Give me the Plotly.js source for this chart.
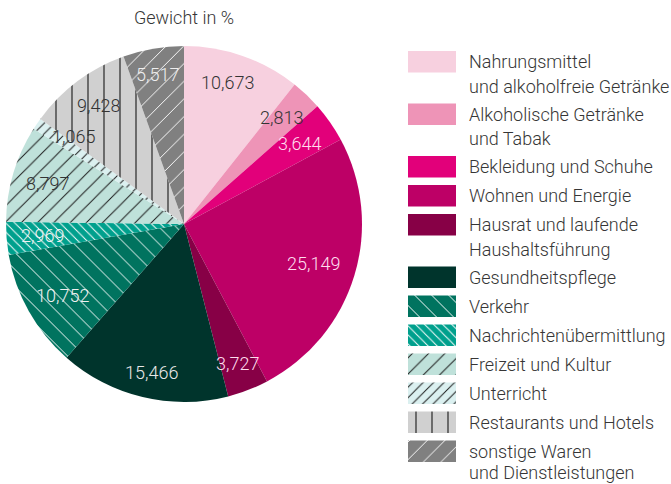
<!DOCTYPE html>
<html><head><meta charset="utf-8">
<script src="https://cdn.plot.ly/plotly-3.0.1.min.js"></script>
<style>html,body{margin:0;padding:0;background:#fff}</style>
</head><body><div id="chart" style="width:671px;height:484px"></div>
<script>
// ---- data ----
const categories = ["Nahrungsmittel und alkoholfreie Getränke","Alkoholische Getränke und Tabak","Bekleidung und Schuhe","Wohnen und Energie","Hausrat und laufende Haushaltsführung","Gesundheitspflege","Verkehr","Nachrichtenübermittlung","Freizeit und Kultur","Unterricht","Restaurants und Hotels","sonstige Waren und Dienstleistungen"];
const legendLines = [["Nahrungsmittel","und alkoholfreie Getränke"],["Alkoholische Getränke","und Tabak"],["Bekleidung und Schuhe"],["Wohnen und Energie"],["Hausrat und laufende","Haushaltsführung"],["Gesundheitspflege"],["Verkehr"],["Nachrichtenübermittlung"],["Freizeit und Kultur"],["Unterricht"],["Restaurants und Hotels"],["sonstige Waren","und Dienstleistungen"]];
const values = [10.673, 2.813, 3.644, 25.149, 3.727, 15.466, 10.752, 2.969, 8.797, 1.065, 9.428, 5.517];
const valueLabels = ["10,673","2,813","3,644","25,149","3,727","15,466","10,752","2,969","8,797","1,065","9,428","5,517"];
const titleText = "Gewicht in %";

// ---- styles ----
const colors = ["#f7d0df","#ee94b7","#e2007a","#bd0066","#870046","#00342c","#00735f","#00a08d","#bfe1da","#dbf0f0","#d0d0d0","#808080"];
const patternShapes = ["","","","","","","\\","\\","/","/","|","/"];
const patternFg = ["#fff","#fff","#fff","#fff","#fff","#fff","#ffffff","#ffffff","#1a1a1a","#1a1a1a","#1a1a1a","#ffffff"];
const patternSizes = [8,8,8,8,8,8,12,6.4,11.5,7.4,16,12.5];
const patternSolid = [0.1,0.1,0.1,0.1,0.1,0.1,0.08,0.15,0.085,0.13,0.07,0.075];
const labelColors = ["#333","#333","#fde","#fde","#fde","#e8e8e8","#f0f0f0","#f0f0f0","#333","#333","#333","#eee"];
const labelRadius = [0.83,0.81,0.79,0.76,0.84,0.853,0.79,0.80,0.80,0.79,0.82,0.85];
const labelAngleShift = [-2,-1,0,0,0,-1,-1,0,0,4,1,0];

const W = 671, H = 484;
const cx = 184, cy = 224, R = 178;
const font = {family: "Roboto, 'Open Sans', sans-serif", weight: 300};

const pie = {
  type: 'pie', values: values, labels: categories, sort: false, direction: 'clockwise', rotation: 0,
  textinfo: 'none', hoverinfo: 'skip',
  domain: {x: [(cx - R)/W, (cx + R)/W], y: [1 - (cy + R)/H, 1 - (cy - R)/H]},
  marker: {colors: colors, line: {width: 0},
    pattern: {shape: patternShapes, fgcolor: patternFg, bgcolor: colors, size: patternSizes, solidity: patternSolid, fillmode: 'replace'}}
};

// legend rows
const rowTop0 = 51, pitch = 29, extra = 23.5, swH = 21.5, lineGap = 24.5;
const rowCenters = [];
let t = rowTop0;
legendLines.forEach(lines => { rowCenters.push(t + swH/2); t += pitch + (lines.length - 1)*extra; });

const legendTraces = categories.map((c, i) => {
  const m = {color: colors[i], line: {width: 0}};
  if (patternShapes[i]) m.pattern = {shape: patternShapes[i], fgcolor: patternFg[i], bgcolor: colors[i], size: patternSizes[i], solidity: patternSolid[i], fillmode: 'replace'};
  return {type: 'bar', orientation: 'h', x: [1], y: [rowCenters[i]], width: swH, name: c,
    xaxis: 'x', yaxis: 'y', hoverinfo: 'skip', marker: m};
});

const annotations = [];
let cum = 0;
const total = values.reduce((a,b)=>a+b,0);
values.forEach((v,i) => {
  const mid = (cum + v/2)/total * 2*Math.PI + labelAngleShift[i]*Math.PI/180; cum += v;
  const r = labelRadius[i]*R;
  annotations.push({xref:'paper', yref:'paper', x:(cx + r*Math.sin(mid))/W, y:1 - (cy - r*Math.cos(mid))/H,
    text: valueLabels[i], showarrow:false, xanchor:'center', yanchor:'middle',
    font: Object.assign({size:18, color: labelColors[i]}, font)});
});
legendLines.forEach((lines,i) => {
  lines.forEach((ln,j) => {
    const yc = Math.min(rowCenters[i] + j*lineGap, H - 12);
    annotations.push({xref:'paper', yref:'paper', x:467/W, y:1 - yc/H,
      text: ln, showarrow:false, xanchor:'left', yanchor:'middle',
      font: Object.assign({size:18, color:'#363636'}, font)});
  });
});

const layout = {
  width: W, height: H, margin: {l:0, r:0, t:0, b:0}, barmode: 'overlay',
  paper_bgcolor: '#fff', plot_bgcolor: 'rgba(0,0,0,0)', showlegend: false,
  title: {text: titleText, x: cx/W, y: 1 - 18/H, xanchor:'center', yanchor:'middle', xref:'paper', yref:'paper',
    font: Object.assign({size:18, color:'#363636'}, font)},
  xaxis: {domain: [408/W, 456/W], range: [0,1], visible: false, fixedrange: true},
  yaxis: {domain: [0,1], range: [H, 0], visible: false, fixedrange: true},
  annotations: annotations
};

Plotly.newPlot('chart', [pie].concat(legendTraces), layout, {displayModeBar: false, staticPlot: true});
</script></body></html>
